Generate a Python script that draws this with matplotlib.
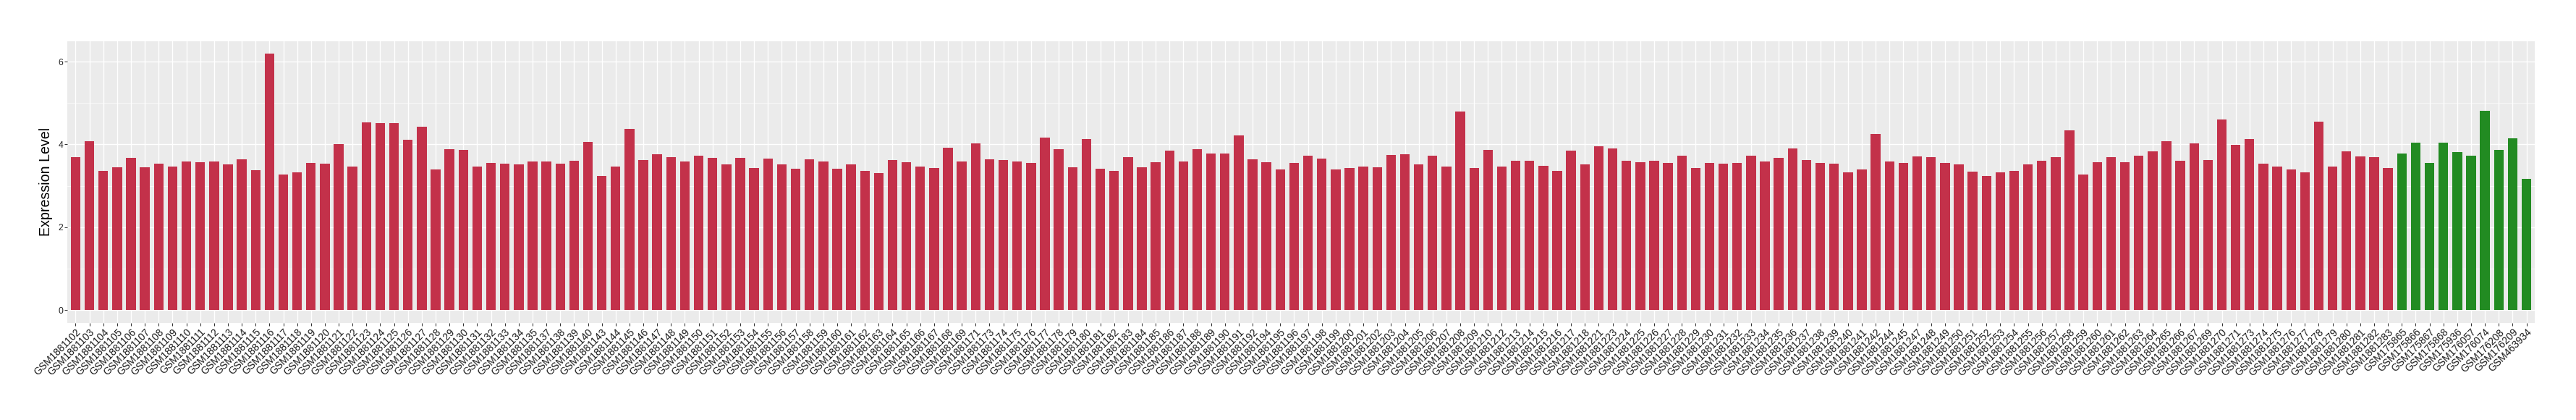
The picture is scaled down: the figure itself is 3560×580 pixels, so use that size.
import matplotlib
matplotlib.use("Agg")
import matplotlib.pyplot as plt
import numpy as np

# ---------------- data ----------------
red_labels = [
    "GSM1881102", "GSM1881103", "GSM1881104", "GSM1881105", "GSM1881106", "GSM1881107",
    "GSM1881108", "GSM1881109", "GSM1881110", "GSM1881111", "GSM1881112", "GSM1881113",
    "GSM1881114", "GSM1881115", "GSM1881116", "GSM1881117", "GSM1881118", "GSM1881119",
    "GSM1881120", "GSM1881121", "GSM1881122", "GSM1881123", "GSM1881124", "GSM1881125",
    "GSM1881126", "GSM1881127", "GSM1881128", "GSM1881129", "GSM1881130", "GSM1881131",
    "GSM1881132", "GSM1881133", "GSM1881134", "GSM1881135", "GSM1881137", "GSM1881138",
    "GSM1881139", "GSM1881140", "GSM1881143", "GSM1881144", "GSM1881145", "GSM1881146",
    "GSM1881147", "GSM1881148", "GSM1881149", "GSM1881150", "GSM1881151", "GSM1881152",
    "GSM1881153", "GSM1881154", "GSM1881155", "GSM1881156", "GSM1881157", "GSM1881158",
    "GSM1881159", "GSM1881160", "GSM1881161", "GSM1881162", "GSM1881163", "GSM1881164",
    "GSM1881165", "GSM1881166", "GSM1881167", "GSM1881168", "GSM1881169", "GSM1881171",
    "GSM1881173", "GSM1881174", "GSM1881175", "GSM1881176", "GSM1881177", "GSM1881178",
    "GSM1881179", "GSM1881180", "GSM1881181", "GSM1881182", "GSM1881183", "GSM1881184",
    "GSM1881185", "GSM1881186", "GSM1881187", "GSM1881188", "GSM1881189", "GSM1881190",
    "GSM1881191", "GSM1881192", "GSM1881194", "GSM1881195", "GSM1881196", "GSM1881197",
    "GSM1881198", "GSM1881199", "GSM1881200", "GSM1881201", "GSM1881202", "GSM1881203",
    "GSM1881204", "GSM1881205", "GSM1881206", "GSM1881207", "GSM1881208", "GSM1881209",
    "GSM1881210", "GSM1881212", "GSM1881213", "GSM1881214", "GSM1881215", "GSM1881216",
    "GSM1881217", "GSM1881218", "GSM1881221", "GSM1881223", "GSM1881224", "GSM1881225",
    "GSM1881226", "GSM1881227", "GSM1881228", "GSM1881229", "GSM1881230", "GSM1881231",
    "GSM1881232", "GSM1881233", "GSM1881234", "GSM1881235", "GSM1881236", "GSM1881237",
    "GSM1881238", "GSM1881239", "GSM1881240", "GSM1881241", "GSM1881242", "GSM1881244",
    "GSM1881245", "GSM1881247", "GSM1881248", "GSM1881249", "GSM1881250", "GSM1881251",
    "GSM1881252", "GSM1881253", "GSM1881254", "GSM1881255", "GSM1881256", "GSM1881257",
    "GSM1881258", "GSM1881259", "GSM1881260", "GSM1881261", "GSM1881262", "GSM1881263",
    "GSM1881264", "GSM1881265", "GSM1881266", "GSM1881267", "GSM1881269", "GSM1881270",
    "GSM1881271", "GSM1881273", "GSM1881274", "GSM1881275", "GSM1881276", "GSM1881277",
    "GSM1881278", "GSM1881279", "GSM1881280", "GSM1881281", "GSM1881282", "GSM1881283",
]
red_values = [
    3.69, 4.08, 3.36, 3.45, 3.68, 3.45, 3.54, 3.47, 3.59, 3.57, 3.59, 3.52,
    3.64, 3.38, 6.19, 3.27, 3.33, 3.56, 3.54, 4.01, 3.47, 4.53, 4.51, 4.51,
    4.11, 4.43, 3.40, 3.89, 3.87, 3.47, 3.56, 3.54, 3.51, 3.59, 3.59, 3.54,
    3.61, 4.06, 3.24, 3.47, 4.37, 3.63, 3.76, 3.69, 3.59, 3.73, 3.68, 3.52,
    3.68, 3.43, 3.66, 3.52, 3.41, 3.64, 3.59, 3.41, 3.51, 3.36, 3.31, 3.63,
    3.57, 3.47, 3.43, 3.92, 3.59, 4.03, 3.64, 3.63, 3.59, 3.56, 4.16, 3.89,
    3.45, 4.13, 3.41, 3.36, 3.69, 3.45, 3.57, 3.85, 3.59, 3.89, 3.78, 3.78,
    4.21, 3.64, 3.57, 3.40, 3.56, 3.73, 3.66, 3.40, 3.43, 3.47, 3.45, 3.74,
    3.76, 3.52, 3.73, 3.47, 4.79, 3.43, 3.87, 3.47, 3.61, 3.61, 3.49, 3.36,
    3.85, 3.51, 3.96, 3.90, 3.61, 3.57, 3.61, 3.56, 3.73, 3.43, 3.56, 3.54,
    3.56, 3.73, 3.59, 3.68, 3.90, 3.63, 3.56, 3.54, 3.33, 3.40, 4.25, 3.59,
    3.56, 3.71, 3.69, 3.56, 3.52, 3.34, 3.24, 3.33, 3.36, 3.52, 3.61, 3.69,
    4.34, 3.27, 3.57, 3.69, 3.57, 3.73, 3.83, 4.08, 3.61, 4.03, 3.63, 4.60,
    3.99, 4.13, 3.54, 3.47, 3.40, 3.33, 4.55, 3.47, 3.83, 3.71, 3.69, 3.43,
]
green_labels = [
    "GSM175865", "GSM175866", "GSM175867", "GSM175868", "GSM175936",
    "GSM176057", "GSM176074", "GSM176208", "GSM176209", "GSM463934",
]
green_values = [3.78, 4.04, 3.56, 4.04, 3.81, 3.73, 4.81, 3.87, 4.15, 3.16]

y_ticks = [0, 2, 4, 6]
y_label = "Expression Level"

# ---------------- style ----------------
RED = "#C3314A"
GREEN = "#228B22"
PANEL = "#EBEBEB"
plt.rcParams["font.family"] = ["Liberation Sans", "DejaVu Sans"]

labels = red_labels + green_labels
values = red_values + green_values
colors = [RED] * len(red_values) + [GREEN] * len(green_values)
n = len(labels)
x = np.arange(n)

W, H, DPI = 3560, 580, 100
fig = plt.figure(figsize=(W / DPI, H / DPI), dpi=DPI)
fig.patch.set_facecolor("white")
left_px, right_px, top_px, bottom_px = 93, 3503, 56.7, 445.7
ax = fig.add_axes([left_px / W, 1 - bottom_px / H,
                   (right_px - left_px) / W, (bottom_px - top_px) / H])
ax.set_facecolor(PANEL)

ax.bar(x, values, width=0.7, color=colors, zorder=3, linewidth=0)

ax.set_xlim(-0.6, n - 1 + 0.6)
ymax = max(values)
ax.set_ylim(-0.05 * ymax, ymax * 1.05)

ax.set_xticks(x)
ax.set_xticklabels(labels, rotation=45, ha="right", va="top",
                   rotation_mode="anchor", fontsize=10, color="#1A1A1A")
ax.set_yticks(y_ticks)
ax.set_yticks([1, 3, 5], minor=True)
ax.set_yticklabels([str(t) for t in y_ticks], fontsize=8.7, color="#222222")

ax.tick_params(axis="both", which="major", length=2.7, width=0.75,
               color="#333333", pad=1.5)
ax.tick_params(axis="y", which="minor", length=0)

ax.grid(True, which="major", axis="both", color="white", linewidth=1.0, zorder=0)
ax.grid(True, which="minor", axis="y", color="white", linewidth=0.5, zorder=0)
ax.set_axisbelow(True)
for s in ax.spines.values():
    s.set_visible(False)

ax.set_ylabel(y_label, fontsize=14.1, color="black")
ax.yaxis.set_label_coords((72.7 - left_px) / (right_px - left_px), 0.5)

fig.savefig("out.png", dpi=DPI, facecolor="white")
